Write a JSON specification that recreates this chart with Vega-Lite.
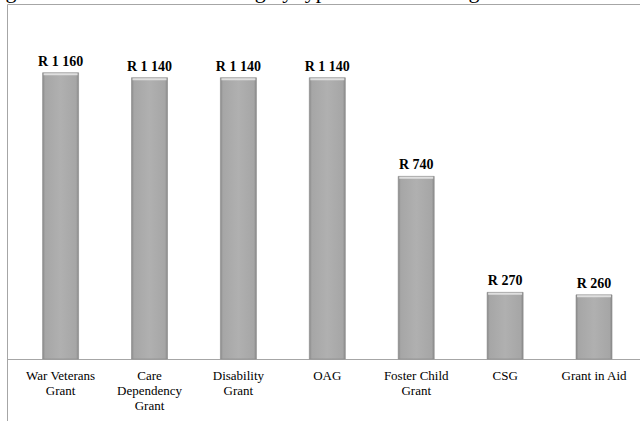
{
  "$schema": "https://vega.github.io/schema/vega-lite/v6.json",
  "width": 633,
  "height": 417,
  "autosize": {"type": "none"},
  "padding": {"left": 7, "top": 4, "right": 0, "bottom": 0},
  "background": "white",
  "config": {"view": {"stroke": null}, "font": "Liberation Serif"},
  "title": {
    "text": "Social grant values in Rand: ranking by type of each social grant",
    "anchor": "start",
    "dx": -62,
    "dy": 17.5,
    "offset": 2,
    "baseline": "alphabetic",
    "font": "Liberation Serif",
    "fontSize": 22,
    "fontWeight": "normal",
    "color": "black"
  },
  "data": {
    "values": [
      {"grant": "War Veterans Grant", "amount": 1160},
      {"grant": "Care Dependency Grant", "amount": 1140},
      {"grant": "Disability Grant", "amount": 1140},
      {"grant": "OAG", "amount": 1140},
      {"grant": "Foster Child Grant", "amount": 740},
      {"grant": "CSG", "amount": 270},
      {"grant": "Grant in Aid", "amount": 260}
    ]
  },
  "transform": [
    {"calculate": "'R ' + replace(format(datum.amount, ','), ',', ' ')", "as": "label"}
  ],
  "resolve": {"axis": {"x": "independent", "y": "independent"}},
  "layer": [
    {
      "mark": {
        "type": "bar",
        "stroke": "#8a8a8a",
        "strokeWidth": 0.6,
        "fill": {
          "gradient": "linear",
          "x1": 0, "x2": 1, "y1": 0, "y2": 0,
          "stops": [
            {"offset": 0, "color": "#888888"},
            {"offset": 0.07, "color": "#a6a6a6"},
            {"offset": 0.5, "color": "#b0b0b0"},
            {"offset": 0.93, "color": "#a6a6a6"},
            {"offset": 1, "color": "#888888"}
          ]
        }
      },
      "encoding": {
        "x": {
          "field": "grant", "type": "nominal", "sort": null,
          "scale": {"paddingInner": 0.595, "paddingOuter": 0.3575, "align": 0.56},
          "axis": {"orient": "top", "labels": false, "ticks": false, "title": null, "domainColor": "#a6a6a6", "domainWidth": 1}
        },
        "y": {
          "field": "amount", "type": "quantitative",
          "scale": {"domain": [-251.2, 1438.4], "nice": false, "zero": false},
          "axis": {"orient": "left", "labels": false, "ticks": false, "grid": false, "title": null, "domainColor": "#a6a6a6", "domainWidth": 1}
        },
        "y2": {"datum": 0}
      }
    },
    {
      "mark": {"type": "tick", "color": "#e4e4e4", "thickness": 2, "size": 34, "yOffset": 1.5, "opacity": 0.9},
      "encoding": {
        "x": {
          "field": "grant", "type": "nominal", "sort": null,
          "axis": {
            "orient": "bottom",
            "offset": -62,
            "title": null,
            "ticks": false,
            "domainColor": "#a6a6a6",
            "domainWidth": 1,
            "labelAngle": 0,
            "labelFont": "Liberation Serif",
            "labelFontSize": 13,
            "labelColor": "black",
            "labelPadding": 10,
            "labelLineHeight": 15,
            "labelBaseline": "top",
            "labelOverlap": false,
            "labelLimit": 0,
            "labelExpr": "datum.value == 'War Veterans Grant' ? ['War Veterans', 'Grant'] : datum.value == 'Care Dependency Grant' ? ['Care', 'Dependency', 'Grant'] : datum.value == 'Disability Grant' ? ['Disability', 'Grant'] : datum.value == 'Foster Child Grant' ? ['Foster Child', 'Grant'] : datum.value"
          }
        },
        "y": {"field": "amount", "type": "quantitative", "axis": null}
      }
    },
    {
      "mark": {"type": "text", "dy": -7, "baseline": "alphabetic", "align": "center", "font": "Liberation Serif", "fontWeight": "bold", "fontSize": 14, "color": "black"},
      "encoding": {
        "x": {"field": "grant", "type": "nominal", "sort": null, "axis": null},
        "y": {"field": "amount", "type": "quantitative", "axis": null},
        "text": {"field": "label", "type": "nominal"}
      }
    }
  ]
}
